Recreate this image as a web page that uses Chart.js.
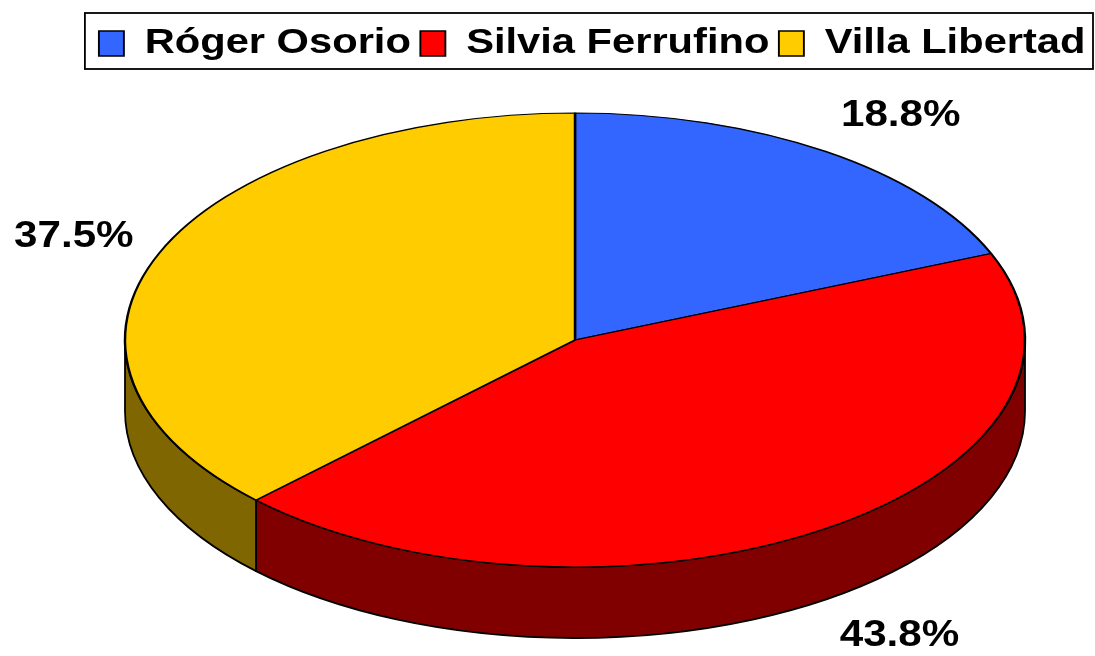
<!DOCTYPE html>
<html>
<head>
<meta charset="utf-8">
<script src="https://cdn.jsdelivr.net/npm/chart.js@4.4.0/dist/chart.umd.min.js"></script>
<style>
  html, body { margin: 0; padding: 0; background: #fff; }
  #wrap { width: 1095px; height: 656px; }
</style>
</head>
<body>
<div id="wrap"><canvas id="grafico"></canvas></div>
<script>
// Datos del gráfico
const candidatos = ['Róger Osorio', 'Silvia Ferrufino', 'Villa Libertad'];
const porcentajes = [18.8, 43.8, 37.5];

// Colores de la cara superior y del lateral
const coloresCara = ['#3366FF', '#FF0000', '#FFCC00'];
const coloresLado = ['#1A3380', '#800000', '#806600'];

// Perspectiva del pastel 3D
const centroX = 575, centroY = 340, radioX = 450, radioY = 227, grosor = 71;
const fuente = 'Liberation Sans, Arial, sans-serif';
// Estiramiento horizontal de los textos
const estiroLeyenda = 1.19, estiroEtiqueta = 1.14;

// Posición x de la leyenda tras estirarla desde el borde derecho
const xLeyenda = (chart, x) => chart.width - (chart.width - x) * estiroLeyenda;

const pastel3d = {
    id: 'pastel3d',
    beforeDraw(chart) {
        // Estirar la leyenda (se dibuja antes que los datos)
        const ctx = chart.ctx;
        ctx.save();
        ctx.translate(chart.width, 0);
        ctx.scale(estiroLeyenda, 1);
        ctx.translate(-chart.width, 0);
    },
    beforeDatasetsDraw(chart) {
        const ctx = chart.ctx;
        ctx.restore();
        const arcos = chart.getDatasetMeta(0).data;
        // Lateral visible (mitad inferior)
        ctx.save();
        ctx.lineWidth = 1.8;
        ctx.strokeStyle = '#000';
        ctx.lineJoin = 'round';
        arcos.forEach((arco, i) => {
            const { startAngle, endAngle } = arco.getProps(['startAngle', 'endAngle'], true);
            [0, 2 * Math.PI].forEach(off => {
                const a = Math.max(startAngle, off);
                const b = Math.min(endAngle, off + Math.PI);
                if (b <= a) return;
                ctx.beginPath();
                ctx.ellipse(centroX, centroY, radioX, radioY, 0, a, b);
                ctx.ellipse(centroX, centroY + grosor, radioX, radioY, 0, b, a, true);
                ctx.closePath();
                ctx.fillStyle = coloresLado[i];
                ctx.fill();
                ctx.stroke();
            });
        });
        ctx.restore();
        // Inclinar la cara superior
        const a0 = arcos[0];
        ctx.save();
        ctx.translate(centroX, centroY);
        ctx.scale(radioX / a0.outerRadius, radioY / a0.outerRadius);
        ctx.translate(-a0.x, -a0.y);
    },
    afterDatasetsDraw(chart) {
        const ctx = chart.ctx;
        ctx.restore();
        // Etiquetas de porcentaje
        const arcos = chart.getDatasetMeta(0).data;
        ctx.save();
        ctx.font = 'bold 37px ' + fuente;
        ctx.fillStyle = '#000';
        ctx.textBaseline = 'middle';
        arcos.forEach((arco, i) => {
            const { startAngle, endAngle } = arco.getProps(['startAngle', 'endAngle'], true);
            const m = (startAngle + endAngle) / 2;
            const c = Math.cos(m), s = Math.sin(m);
            const x = centroX + (radioX + 28) * c;
            const y = centroY + (radioY + 43) * s + (s > 0 ? grosor : 0);
            ctx.save();
            ctx.translate(x, y);
            ctx.scale(estiroEtiqueta, 1);
            ctx.textAlign = c >= 0 ? 'left' : 'right';
            ctx.fillText(porcentajes[i].toFixed(1) + '%', 0, 0);
            ctx.restore();
        });
        ctx.restore();
    },
    afterDraw(chart) {
        // Marco de la leyenda
        const cajas = chart.legend.legendHitBoxes;
        if (!cajas.length) return;
        const ctx = chart.ctx;
        const izq = xLeyenda(chart, cajas[0].left) - 14;
        const cy = cajas[0].top + cajas[0].height / 2;
        ctx.save();
        ctx.lineWidth = 1.8;
        ctx.strokeStyle = '#000';
        ctx.strokeRect(izq, cy - 30.5, chart.width - 2 - izq, 56);
        ctx.restore();
    }
};

const ctx = document.getElementById('grafico').getContext('2d');
new Chart(ctx, {
    type: 'pie',
    data: {
        labels: candidatos,
        datasets: [{
            data: porcentajes,
            backgroundColor: coloresCara,
            borderColor: '#000',
            borderWidth: 1.6,
            clip: false
        }]
    },
    plugins: [pastel3d],
    options: {
        responsive: true,
        maintainAspectRatio: false,
        animation: false,
        events: [],
        layout: { padding: { top: 18 } },
        plugins: {
            legend: {
                position: 'top',
                align: 'end',
                labels: {
                    font: { family: fuente, size: 35, weight: 'bold' },
                    color: '#000',
                    boxWidth: 21,
                    boxHeight: 25,
                    padding: 8
                }
            },
            tooltip: { enabled: false }
        }
    }
});
</script>
</body>
</html>
